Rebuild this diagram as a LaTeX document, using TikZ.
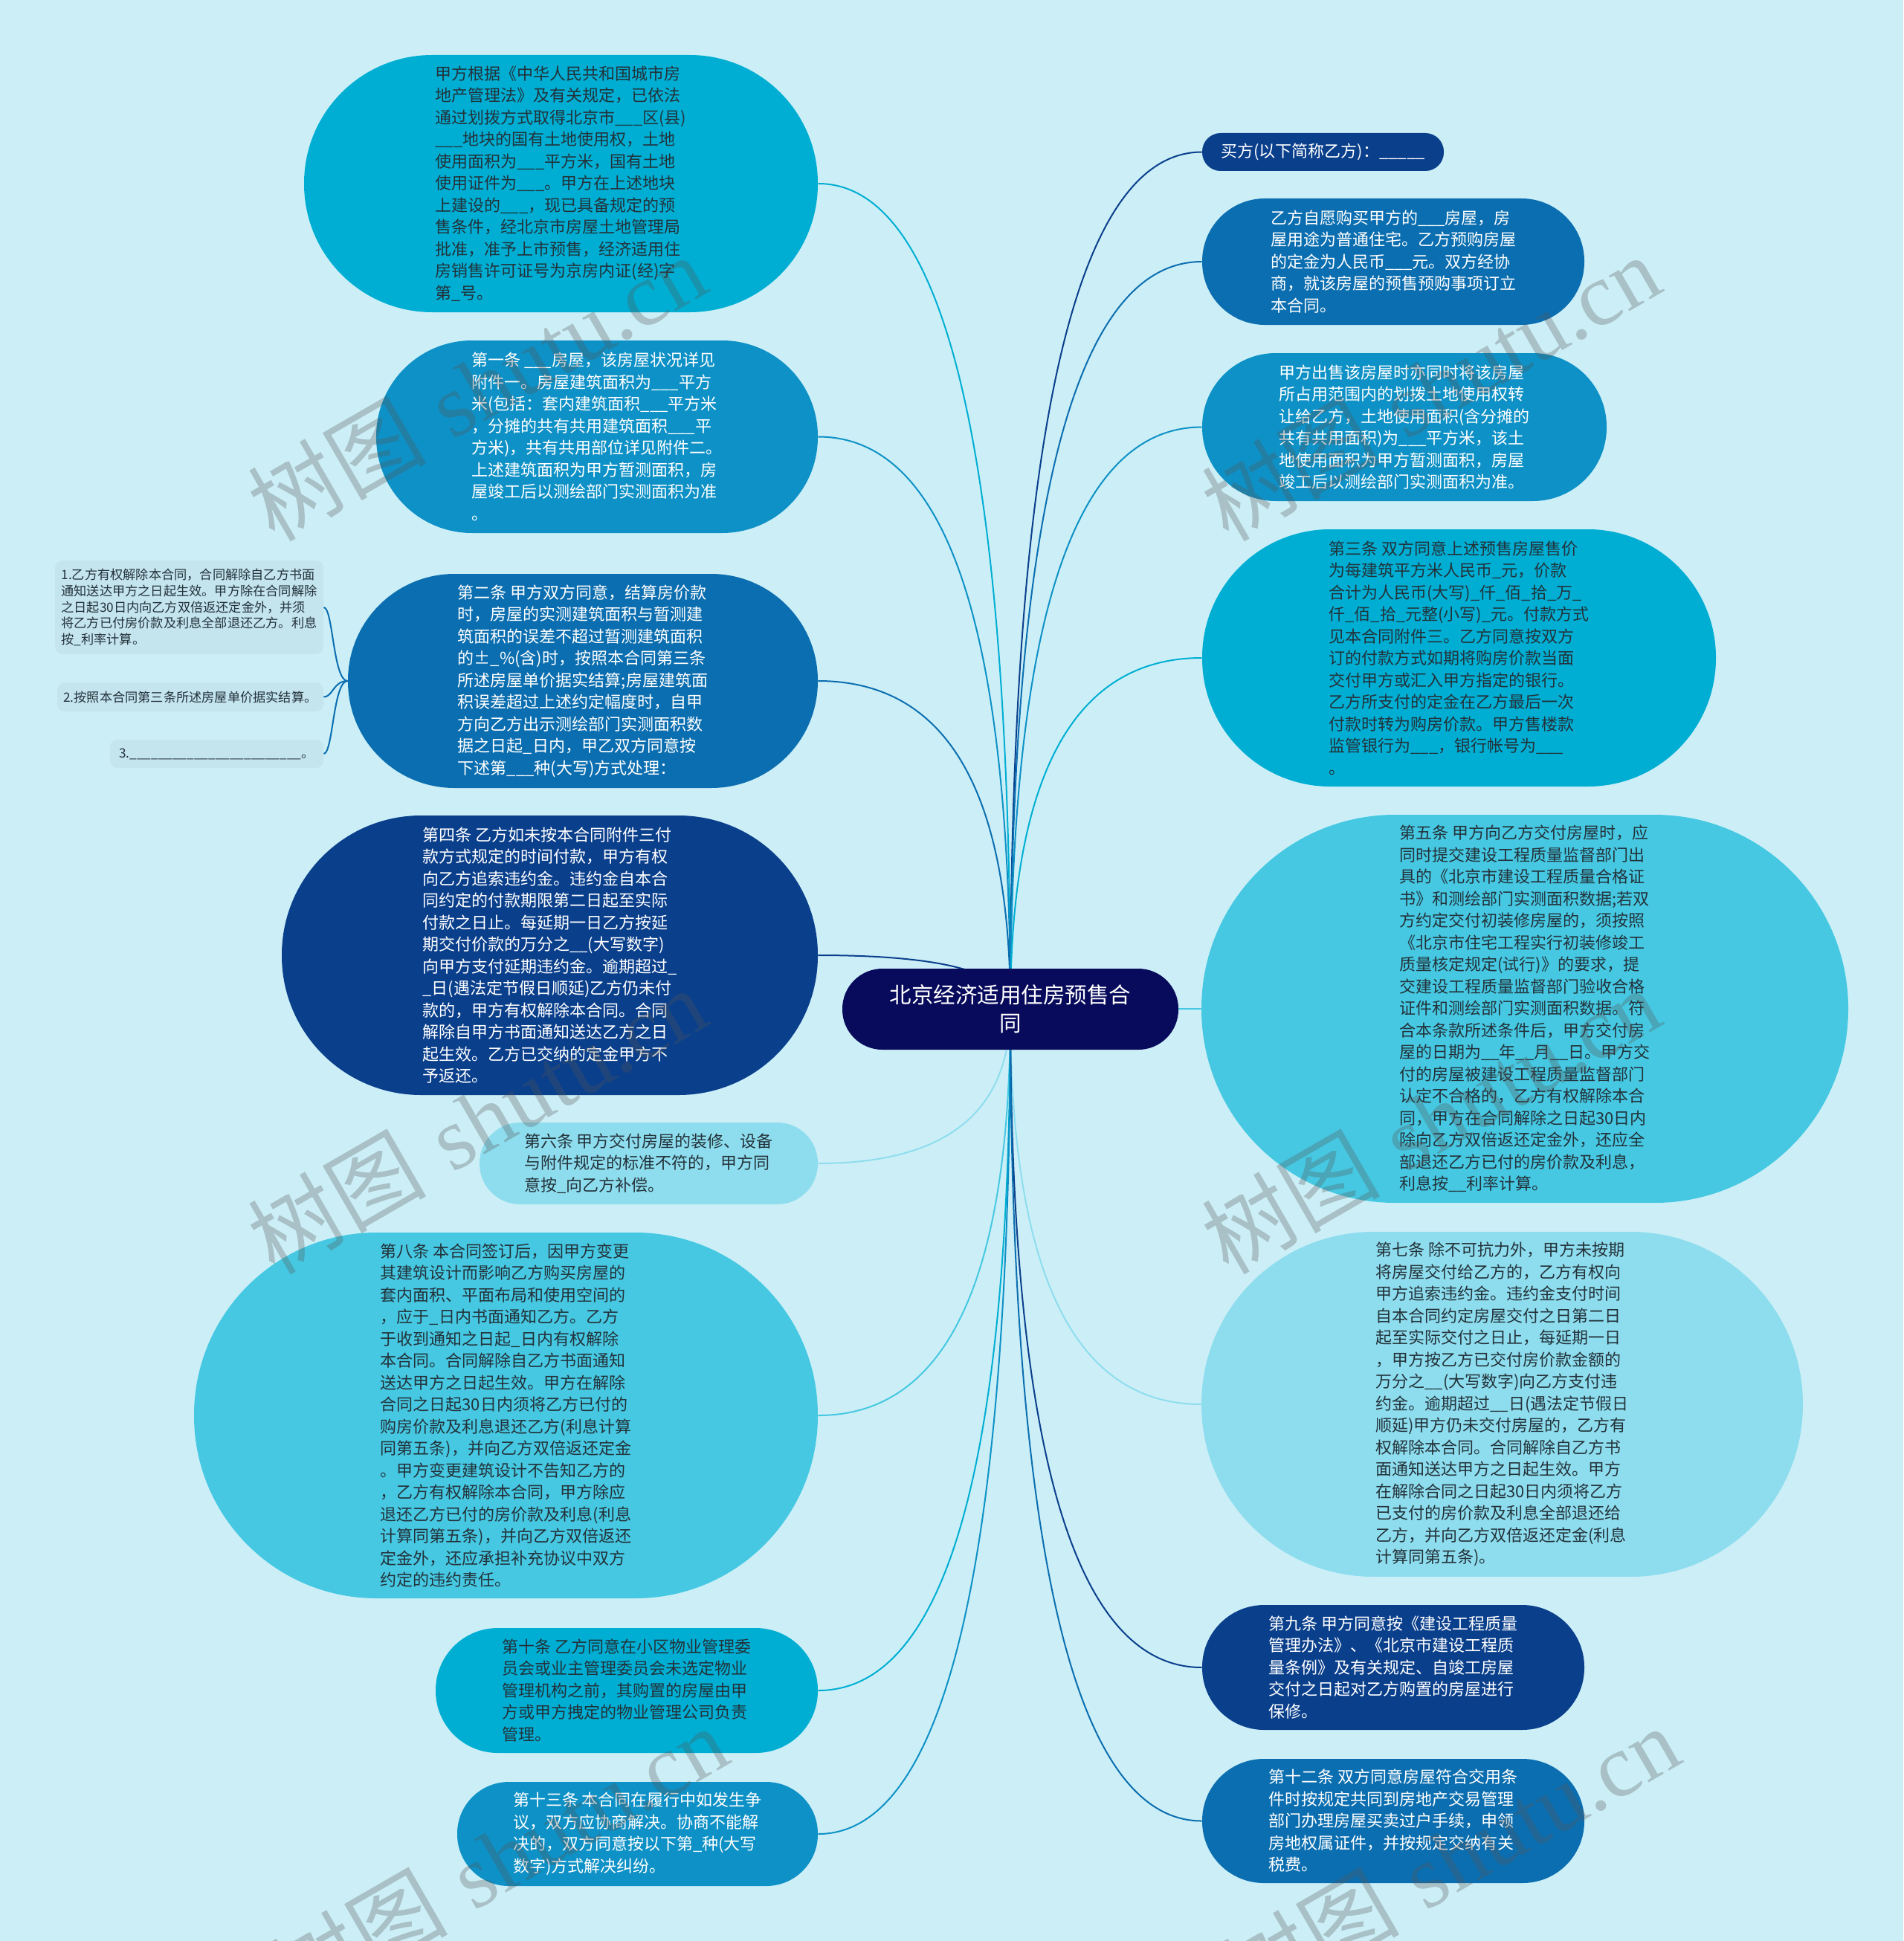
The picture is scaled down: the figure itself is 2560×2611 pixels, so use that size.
\documentclass[tikz,border=0pt]{standalone}
\usepackage{fontspec}
\newfontfamily\cjk{Noto Sans CJK SC}
\newfontfamily\wmserif{Liberation Serif}
\usetikzlibrary{calc}
\definecolor{bgc}{HTML}{CCEFF7}
\definecolor{cA}{HTML}{00AED3}
\definecolor{cB}{HTML}{0E91C6}
\definecolor{cC}{HTML}{0B6EB0}
\definecolor{cD}{HTML}{0A3F8C}
\definecolor{cE}{HTML}{8EDDEE}
\definecolor{cF}{HTML}{46C8E2}
\definecolor{cCenter}{HTML}{080B5C}
\definecolor{cSmall}{HTML}{C4E4EE}
\definecolor{txtdark}{HTML}{23323A}
\definecolor{wmgray}{HTML}{555555}
\pgfdeclarelayer{bg}\pgfdeclarelayer{edges}\pgfdeclarelayer{fg}
\pgfsetlayers{bg,edges,main,fg}
\tikzset{
  conn/.style={line width=1pt},
  topic/.style={rectangle, align=left, inner sep=0pt, font=\cjk\fontsize{11}{14.75}\selectfont},
  sz/.style 2 args={minimum width=#1*0.5pt, minimum height=#2*0.5pt, rounded corners=#2*0.25pt-0.3pt},
  dk/.style={text=txtdark},
  wt/.style={text=white},
  subnode/.style={rectangle, align=left, inner sep=0pt, rounded corners=5pt, fill=cSmall, text=txtdark, font=\cjk\fontsize{8.6}{10.85}\selectfont},
  wm/.style={text=wmgray, text opacity=0.3, inner sep=0pt, rotate=30, font=\fontsize{60}{60}\selectfont},
}
\begin{document}
\begin{tikzpicture}[x=0.5pt,y=-0.5pt]
\useasboundingbox (0,0) rectangle (2560,2611);
\begin{pgfonlayer}{bg}
\fill[bgc] (0,0) rectangle (2560,2611);
\end{pgfonlayer}

% center
\node[topic, align=center, fill=cCenter, wt, sz={452}{109}, font=\cjk\fontsize{14.75}{19}\selectfont] (ctr) at (1359,1357.5) {北京经济适用住房预售合\\同};

% left side
\node[topic, fill=cA, dk, sz={691}{346}] (L1) at (754.5,247) {甲方根据《中华人民共和国城市房\\地产管理法》及有关规定，已依法\\通过划拨方式取得北京市\_\_\_区(县)\\\_\_\_地块的国有土地使用权，土地\\使用面积为\_\_\_平方米，国有土地\\使用证件为\_\_\_。甲方在上述地块\\上建设的\_\_\_，现已具备规定的预\\售条件，经北京市房屋土地管理局\\批准，准予上市预售，经济适用住\\房销售许可证号为京房内证(经)字\\第\_号。};

\node[topic, fill=cB, wt, sz={594}{259}] (L2) at (803,587.5) {第一条 \_\_\_房屋，该房屋状况详见\\附件一。房屋建筑面积为\_\_\_平方\\米(包括：套内建筑面积\_\_\_平方米\\，分摊的共有共用建筑面积\_\_\_平\\方米)，共有共用部位详见附件二。\\上述建筑面积为甲方暂测面积，房\\屋竣工后以测绘部门实测面积为准\\。};

\node[topic, fill=cC, wt, sz={632}{288}] (L3) at (784,916) {第二条 甲方双方同意，结算房价款\\时，房屋的实测建筑面积与暂测建\\筑面积的误差不超过暂测建筑面积\\的±\_\%(含)时，按照本合同第三条\\所述房屋单价据实结算;房屋建筑面\\积误差超过上述约定幅度时，自甲\\方向乙方出示测绘部门实测面积数\\据之日起\_日内，甲乙双方同意按\\下述第\_\_\_种(大写)方式处理：};

\node[topic, fill=cD, wt, sz={721}{376}] (L4) at (739.5,1285) {第四条 乙方如未按本合同附件三付\\款方式规定的时间付款，甲方有权\\向乙方追索违约金。违约金自本合\\同约定的付款期限第二日起至实际\\付款之日止。每延期一日乙方按延\\期交付价款的万分之\_\_(大写数字)\\向甲方支付延期违约金。逾期超过\_\\\_日(遇法定节假日顺延)乙方仍未付\\款的，甲方有权解除本合同。合同\\解除自甲方书面通知送达乙方之日\\起生效。乙方已交纳的定金甲方不\\予返还。};

\node[topic, fill=cE, dk, sz={455}{110}] (L5) at (872.5,1565) {第六条 甲方交付房屋的装修、设备\\与附件规定的标准不符的，甲方同\\意按\_向乙方补偿。};

\node[topic, fill=cF, dk, sz={839}{492}] (L6) at (680.5,1904) {第八条 本合同签订后，因甲方变更\\其建筑设计而影响乙方购买房屋的\\套内面积、平面布局和使用空间的\\，应于\_日内书面通知乙方。乙方\\于收到通知之日起\_日内有权解除\\本合同。合同解除自乙方书面通知\\送达甲方之日起生效。甲方在解除\\合同之日起30日内须将乙方已付的\\购房价款及利息退还乙方(利息计算\\同第五条)，并向乙方双倍返还定金\\。甲方变更建筑设计不告知乙方的\\，乙方有权解除本合同，甲方除应\\退还乙方已付的房价款及利息(利息\\计算同第五条)，并向乙方双倍返还\\定金外，还应承担补充协议中双方\\约定的违约责任。};

\node[topic, fill=cA, dk, sz={514}{168}] (L7) at (843,2274) {第十条 乙方同意在小区物业管理委\\员会或业主管理委员会未选定物业\\管理机构之前，其购置的房屋由甲\\方或甲方拽定的物业管理公司负责\\管理。};

\node[topic, fill=cB, wt, sz={485}{140}] (L8) at (857.5,2467) {第十三条 本合同在履行中如发生争\\议，双方应协商解决。协商不能解\\决的，双方同意按以下第\_种(大写\\数字)方式解决纠纷。};

% right side
\node[topic, fill=cD, wt, sz={325}{51}] (R1) at (1779.5,204.5) {买方(以下简称乙方)：\_\_\_\_\_};

\node[topic, fill=cC, wt, sz={514}{170}] (R2) at (1874,352) {乙方自愿购买甲方的\_\_\_房屋，房\\屋用途为普通住宅。乙方预购房屋\\的定金为人民币\_\_\_元。双方经协\\商，就该房屋的预售预购事项订立\\本合同。};

\node[topic, fill=cB, wt, sz={544}{199}] (R3) at (1889,574.5) {甲方出售该房屋时亦同时将该房屋\\所占用范围内的划拨土地使用权转\\让给乙方，土地使用面积(含分摊的\\共有共用面积)为\_\_\_平方米，该土\\地使用面积为甲方暂测面积，房屋\\竣工后以测绘部门实测面积为准。};

\node[topic, fill=cA, dk, sz={691}{346}] (R4) at (1962.5,885) {第三条 双方同意上述预售房屋售价\\为每建筑平方米人民币\_元，价款\\合计为人民币(大写)\_仟\_佰\_拾\_万\_\\仟\_佰\_拾\_元整(小写)\_元。付款方式\\见本合同附件三。乙方同意按双方\\订的付款方式如期将购房价款当面\\交付甲方或汇入甲方指定的银行。\\乙方所支付的定金在乙方最后一次\\付款时转为购房价款。甲方售楼款\\监管银行为\_\_\_，银行帐号为\_\_\_\\。};

\node[topic, fill=cF, dk, sz={870}{522}] (R5) at (2051,1357) {第五条 甲方向乙方交付房屋时，应\\同时提交建设工程质量监督部门出\\具的《北京市建设工程质量合格证\\书》和测绘部门实测面积数据;若双\\方约定交付初装修房屋的，须按照\\《北京市住宅工程实行初装修竣工\\质量核定规定(试行)》的要求，提\\交建设工程质量监督部门验收合格\\证件和测绘部门实测面积数据。符\\合本条款所述条件后，甲方交付房\\屋的日期为\_\_年\_\_月\_\_日。甲方交\\付的房屋被建设工程质量监督部门\\认定不合格的，乙方有权解除本合\\同，甲方在合同解除之日起30日内\\除向乙方双倍返还定金外，还应全\\部退还乙方已付的房价款及利息，\\利息按\_\_利率计算。};

\node[topic, fill=cE, dk, sz={809}{464}] (R6) at (2020.5,1889) {第七条 除不可抗力外，甲方未按期\\将房屋交付给乙方的，乙方有权向\\甲方追索违约金。违约金支付时间\\自本合同约定房屋交付之日第二日\\起至实际交付之日止，每延期一日\\，甲方按乙方已交付房价款金额的\\万分之\_\_(大写数字)向乙方支付违\\约金。逾期超过\_\_日(遇法定节假日\\顺延)甲方仍未交付房屋的，乙方有\\权解除本合同。合同解除自乙方书\\面通知送达甲方之日起生效。甲方\\在解除合同之日起30日内须将乙方\\已支付的房价款及利息全部退还给\\乙方，并向乙方双倍返还定金(利息\\计算同第五条)。};

\node[topic, fill=cD, wt, sz={514}{168}] (R7) at (1874,2243) {第九条 甲方同意按《建设工程质量\\管理办法》、《北京市建设工程质\\量条例》及有关规定、自竣工房屋\\交付之日起对乙方购置的房屋进行\\保修。};

\node[topic, fill=cC, wt, sz={514}{167}] (R8) at (1874,2449.5) {第十二条 双方同意房屋符合交用条\\件时按规定共同到房地产交易管理\\部门办理房屋买卖过户手续，申领\\房地权属证件，并按规定交纳有关\\税费。};

% sub nodes of L3
\node[subnode, minimum width=361*0.5pt, minimum height=126*0.5pt] (S1) at (254.5,817) {1.乙方有权解除本合同，合同解除自乙方书面\\通知送达甲方之日起生效。甲方除在合同解除\\之日起30日内向乙方双倍返还定金外，并须\\将乙方已付房价款及利息全部退还乙方。利息\\按\_利率计算。};
\node[subnode, minimum width=358*0.5pt, minimum height=39*0.5pt] (S2) at (256,937.5) {2.按照本合同第三条所述房屋单价据实结算。};
\node[subnode, minimum width=287*0.5pt, minimum height=38*0.5pt] (S3) at (291.5,1014) {3.\_\_\_\_\_\_\_\_\_\_\_\_\_\_\_\_\_\_\_\_\_\_\_\_。};

% connectors
\begin{pgfonlayer}{edges}
\foreach \n/\a/\c in {L1/east/cA, L2/east/cB, L3/east/cC, L4/east/cD, L5/east/cE, L6/east/cF, L7/east/cA, L8/east/cB, R1/west/cD, R2/west/cC, R3/west/cB, R4/west/cA, R5/west/cF, R6/west/cE, R7/west/cD, R8/west/cC}{
  \coordinate (k\n) at (ctr.center |- \n.\a);
  \draw[conn, \c] (ctr.center) .. controls ($(ctr.center)!0.667!(k\n)$) and ($(\n.\a)!0.667!(k\n)$) .. (\n.\a);
}
\coordinate (bj) at (448,916);
\foreach \s in {S1,S2,S3}{
  \draw[conn, cC] (L3.west) .. controls (bj) and (bj |- \s.east) .. (\s.east);
}
\end{pgfonlayer}

% watermarks
\begin{pgfonlayer}{fg}
\foreach \x/\y [count=\i] in {641/521, 1924/521, 641/1507, 1924/1507, 670/2500, 1950/2500}{
  \node[wm] (wm\i) at (\x,\y) {{\cjk 树图} {\wmserif shutu.cn}};
}
\end{pgfonlayer}
\end{tikzpicture}
\end{document}
